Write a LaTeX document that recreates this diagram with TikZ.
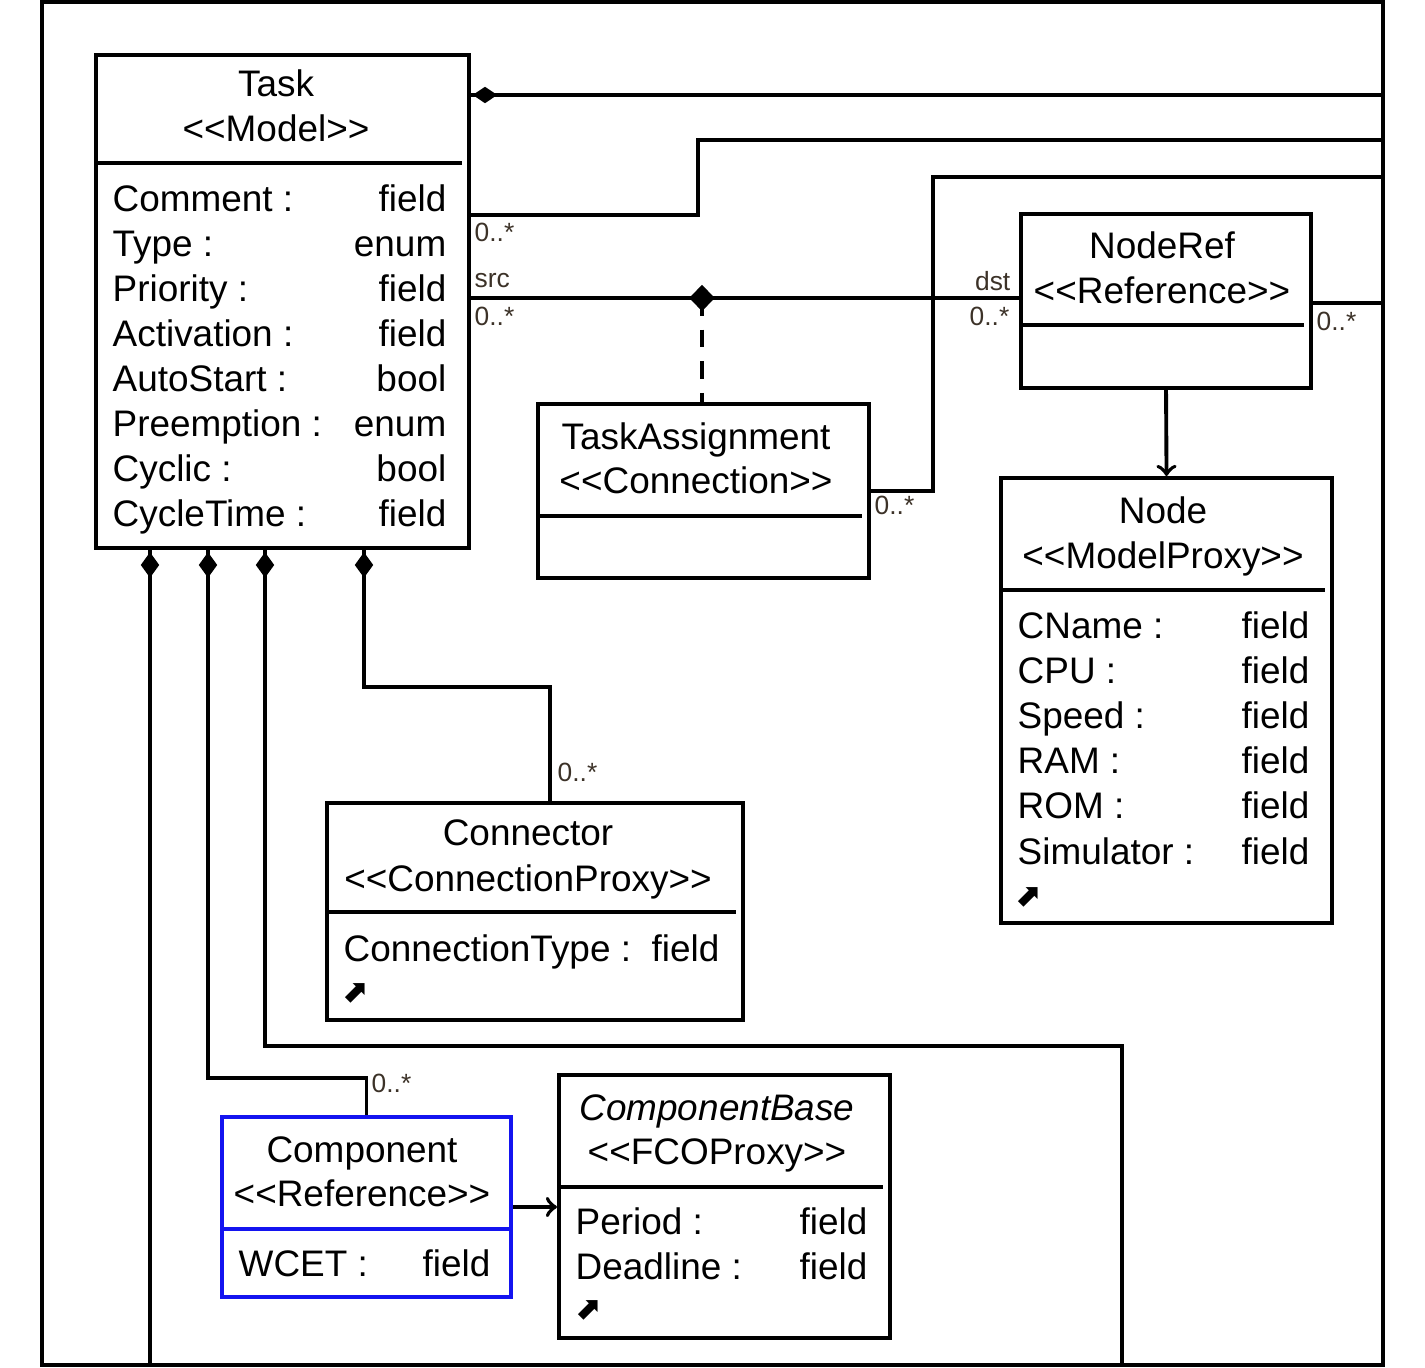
\documentclass[tikz,border=0pt]{standalone}
\usepackage{fontspec}
\setmainfont{Liberation Sans}
\newfontfamily\symfont{DejaVu Sans}
\usepackage{tikz}
\usetikzlibrary{positioning,calc,shapes.geometric}
\usepackage{xcolor}
\definecolor{refblue}{RGB}{20,20,240}
\definecolor{multgray}{RGB}{60,50,40}

\begin{document}
\begin{tikzpicture}[
    x=0.01cm, y=-0.01cm,
    classbox/.style={rectangle, draw=black, fill=white, inner sep=0pt,
                     anchor=north west, line width=1.1pt},
    sep/.style={line width=1.1pt},
    ttl/.style={anchor=base, inner sep=0pt, font=\fontsize{10.5}{12.8}\selectfont},
    attr/.style={anchor=base west, inner sep=0pt, font=\fontsize{10.5}{12.8}\selectfont},
    val/.style={anchor=base east, inner sep=0pt, font=\fontsize{10.5}{12.8}\selectfont},
    mult/.style={inner sep=0pt, text=multgray, font=\fontsize{7.5}{9}\selectfont},
    shortcut/.style={inner sep=0pt, font=\symfont\bfseries\fontsize{9}{9}\selectfont},
    link/.style={line width=1.1pt},
    arrow/.style={->, >=to, line width=1.1pt},
    compH/.style={diamond, fill=black, inner sep=0pt, minimum width=0.25cm, minimum height=0.17cm},
    compV/.style={diamond, fill=black, inner sep=0pt, minimum width=0.19cm, minimum height=0.26cm},
    compM/.style={diamond, fill=black, inner sep=0pt, minimum width=0.26cm, minimum height=0.27cm}
]
\useasboundingbox (0,0) rectangle (1425,1368);
\draw[line width=1.2pt] (42,2) rectangle (1383,1365);

% class boxes
\node[classbox, minimum width=3.73cm, minimum height=4.93cm] (task) at (94,53) {};
\node[classbox, minimum width=2.90cm, minimum height=1.74cm] (noderef) at (1019,212) {};
\node[classbox, minimum width=3.31cm, minimum height=1.74cm] (taskasg) at (536,402) {};
\node[classbox, minimum width=3.31cm, minimum height=4.45cm] (node) at (999,476) {};
\node[classbox, minimum width=4.16cm, minimum height=2.17cm] (connector) at (325,801) {};
\node[classbox, draw=refblue, minimum width=2.89cm, minimum height=1.80cm] (component) at (220,1115) {};
\node[classbox, minimum width=3.31cm, minimum height=2.63cm] (compbase) at (557,1073) {};

\draw[sep] (94,163) -- (462,163);
\draw[sep] (1019,325) -- (1304,325);
\draw[sep] (536,516) -- (862,516);
\draw[sep] (999,590) -- (1325,590);
\draw[sep] (325,912) -- (736,912);
\draw[sep, draw=refblue] (220,1229) -- (509,1229);
\draw[sep] (557,1187) -- (883,1187);

% titles
\node[ttl] (taskT) at (276,97) {Task};
\node[ttl] (taskS) at (276,142) {<{}<Model>{}>};
\node[ttl] (noderefT) at (1162,259) {NodeRef};
\node[ttl] (noderefS) at (1162,304) {<{}<Reference>{}>};
\node[ttl] (taskasgT) at (696,450) {TaskAssignment};
\node[ttl] (taskasgS) at (696,494) {<{}<Connection>{}>};
\node[ttl] (nodeT) at (1163,524) {Node};
\node[ttl] (nodeS) at (1163,569) {<{}<ModelProxy>{}>};
\node[ttl] (connectorT) at (528,846) {Connector};
\node[ttl] (connectorS) at (528,891) {<{}<ConnectionProxy>{}>};
\node[ttl] (componentT) at (362,1162) {Component};
\node[ttl] (componentS) at (362,1206) {<{}<Reference>{}>};
\node[ttl, font=\fontsize{10.5}{12.8}\selectfont\itshape] (compbaseT) at (717,1120) {ComponentBase};
\node[ttl] (compbaseS) at (717,1164) {<{}<FCOProxy>{}>};

% attributes
\foreach \n/\v [count=\i] in {Comment/field, Type/enum, Priority/field, Activation/field,
                              AutoStart/bool, Preemption/enum, Cyclic/bool, CycleTime/field}
{
    \node[attr] (taskA\i) at (112,{167+45*\i}) {\n\ :};
    \node[val] (taskV\i) at (447,{167+45*\i}) {\v};
}
\foreach \n [count=\i] in {CName, CPU, Speed, RAM, ROM, Simulator}
{
    \node[attr] (nodeA\i) at (1017,{594+45*\i}) {\n\ :};
    \node[val] (nodeV\i) at (1310,{594+45*\i}) {field};
}
\node[attr] (connectorA1) at (343,961) {ConnectionType :};
\node[val] (connectorV1) at (720,961) {field};
\node[attr] (componentA1) at (238,1276) {WCET :};
\node[val] (componentV1) at (491,1276) {field};
\node[attr] (compbaseA1) at (575,1234) {Period :};
\node[val] (compbaseV1) at (868,1234) {field};
\node[attr] (compbaseA2) at (575,1279) {Deadline :};
\node[val] (compbaseV2) at (868,1279) {field};

\node[shortcut] (nodeI) at (1028,897) {⬈};
\node[shortcut] (connectorI) at (355,993) {⬈};
\node[shortcut] (compbaseI) at (588,1310) {⬈};

% connectors to the right edge
\coordinate (r1) at (1383,95);
\coordinate (r2) at (1383,140);
\coordinate (k2) at (698,215);
\coordinate (k3) at (702,298);
\coordinate (k4) at (933,177);
\coordinate (r4) at (1383,177);
\coordinate (r5) at (1383,303);

\draw[link] (task.east |- r1) -- (r1);
\draw[link] (task.east |- k2) -- (k2) |- (r2);
\draw[link] (task.east |- k3) -- (noderef.west |- k3);
\draw[link, dashed, dash pattern=on 5pt off 4pt] (k3) -- (k3 |- taskasg.north);
\draw[link] (taskasg.east) -| (k4) -- (r4);
\draw[link] (noderef.east |- r5) -- (r5);
\draw[arrow] (noderef.south) -- (node.north);

\node[compH] (d1) at (485,95) {};
\node[compM] (d3) at (k3) {};

% connectors below the task
\coordinate (b7) at (150,1365);
\coordinate (k8) at (208,1078);
\coordinate (k9) at (265,1046);
\coordinate (b9) at (1122,1365);
\coordinate (k10) at (364,687);
\coordinate (k10b) at (550,687);

\draw[link] (task.south -| b7) -- (b7);
\draw[link] (task.south -| k8) -- (k8) -| (component.north);
\draw[link] (task.south -| k9) -- (k9) -| (b9);
\draw[link] (task.south -| k10) -- (k10) -- (k10b) -- (connector.north -| k10b);
\draw[arrow] (component.east) -- (compbase.west |- component.east);

\node[compV] (d7) at (150,565) {};
\node[compV] (d8) at (208,565) {};
\node[compV] (d9) at (265,565) {};
\node[compV] (d10) at (364,565) {};

% role and multiplicity labels
\node[mult, anchor=west] (m2) at (474,232) {0..*};
\node[mult, anchor=west] (src) at (474,281) {src};
\node[mult, anchor=west] (m3a) at (474,316) {0..*};
\node[mult, anchor=east] (dst) at (1011,281) {dst};
\node[mult, anchor=east] (m3b) at (1010,316) {0..*};
\node[mult, anchor=west] (m5) at (1316,321) {0..*};
\node[mult, anchor=west] (m4) at (874,505) {0..*};
\node[mult, anchor=west] (m10) at (557,772) {0..*};
\node[mult, anchor=west] (m8) at (371,1083) {0..*};

\end{tikzpicture}
\end{document}
